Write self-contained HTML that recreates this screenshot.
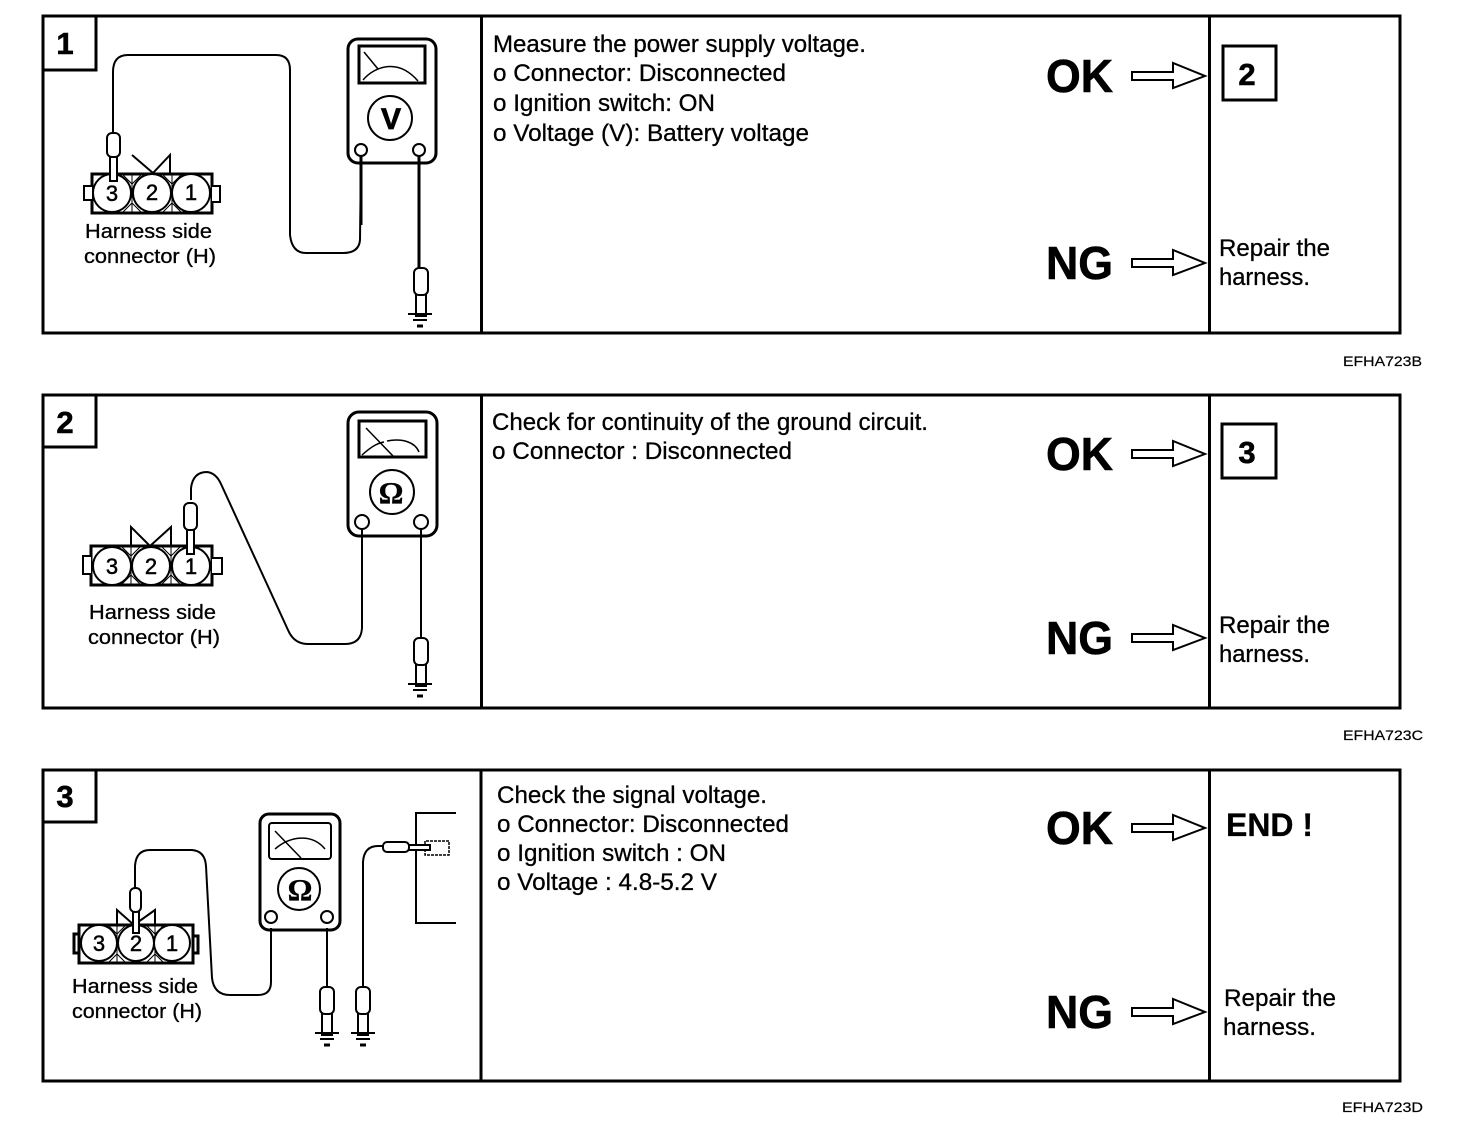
<!DOCTYPE html>
<html lang="en"><head><meta charset="utf-8"><title>EFHA723 troubleshooting</title>
<style>
html,body{margin:0;padding:0;background:#fff}
svg{display:block}
text{font-family:"Liberation Sans",Arial,sans-serif;fill:#000;stroke:#000;stroke-width:.3px}
.b{font-weight:bold}
.m{font-size:24px}
.h{font-size:20px}
.c{font-size:22px;text-anchor:middle;stroke-width:.5px}
.n{font-size:31px;font-weight:bold;text-anchor:middle;stroke-width:.6px}
.big{font-size:46px;font-weight:bold;stroke-width:.6px}
.code{font-size:14px;stroke-width:.2px}
.o{fill:none;stroke:#000;stroke-width:2}
.t{fill:none;stroke:#000;stroke-width:3}
.w{fill:#fff;stroke:#000;stroke-width:2}
.k{fill:none;stroke:#000;stroke-width:1.5}
.x{fill:none;stroke:#000;stroke-width:1}
</style></head><body>
<svg width="1472" height="1128" viewBox="0 0 1472 1128" xmlns="http://www.w3.org/2000/svg">
<defs>
<g id="arrow"><path class="w" d="M0,-4 H41 V-13 L73,0 L41,12 V4 H0 Z"/></g>
<g id="vprobe"><rect class="w" x="-5" y="24" width="10" height="24"/><rect class="w" x="-7" y="0" width="14" height="27" rx="5"/></g>
<g id="gnd"><path class="o" d="M-12,0 H12 M-7,6 H7"/><path class="t" d="M-3,12 H3"/></g>
</defs>
<rect width="1472" height="1128" fill="#fff"/>

<!-- PANEL 1 -->
<rect class="t" x="43" y="16" width="1357" height="317" fill="none"/>
<path class="t" d="M481.500,16 V333 M1209.500,16 V333 M43,70 H96 V16"/>
<text class="n" x="65" y="54">1</text>
<rect class="t" x="348" y="39" width="88" height="124" rx="10"/>
<rect class="t" x="359" y="46" width="66" height="37"/>
<path class="k" d="M364,52 L378,69 M363,80 C375,66 398,58 418,81"/>
<circle class="o" cx="390" cy="118" r="22"/>
<text class="b" x="391" y="129" font-size="30" text-anchor="middle" style="stroke-width:.8px">V</text>
<circle class="w" cx="361" cy="150" r="6"/><circle class="w" cx="419" cy="150" r="6"/>
<path class="o" d="M113,133 V72 Q113,55 128,55 H276 Q290,55 290,70 V235 Q292,253 306,253 H343 Q359,253 360,240 L361,156"/>
<path class="t" d="M361,225 V156 M419,156 V268"/>
<use href="#vprobe" x="421" y="268"/><use href="#gnd" x="420" y="314"/>
<path class="o" d="M132,155 L153,173 L170,155 V174"/>
<rect class="t" x="92" y="174" width="120" height="39" fill="none"/>
<path class="x" d="M132,174 V213 M172,174 V213 M122,174 L132,184 L142,174 M162,174 L172,184 L182,174 M122,213 L132,203 L142,213 M162,213 L172,203 L182,213"/>
<path class="w" d="M92,186 H84 V200 H92 M212,186 H220 V202 H212"/>
<circle class="w" cx="112" cy="193" r="19"/><circle class="w" cx="152" cy="193" r="19"/><circle class="w" cx="191" cy="193" r="19"/>
<text class="c" x="112" y="201">3</text><text class="c" x="152" y="200">2</text><text class="c" x="191" y="200">1</text>
<rect class="w" x="110" y="155" width="7" height="26"/><rect class="w" x="107" y="133" width="13" height="24" rx="5"/>
<text class="h" x="85" y="238" textLength="127" lengthAdjust="spacingAndGlyphs">Harness side</text>
<text class="h" x="84" y="263" textLength="132" lengthAdjust="spacingAndGlyphs">connector (H)</text>
<text class="m" x="493" y="52" textLength="373" lengthAdjust="spacingAndGlyphs">Measure the power supply voltage.</text>
<text class="m" x="493" y="81" textLength="293" lengthAdjust="spacingAndGlyphs">o Connector: Disconnected</text>
<text class="m" x="493" y="111" textLength="222" lengthAdjust="spacingAndGlyphs">o Ignition switch: ON</text>
<text class="m" x="493" y="141" textLength="316" lengthAdjust="spacingAndGlyphs">o Voltage (V): Battery voltage</text>
<text class="big" x="1046" y="92" textLength="67" lengthAdjust="spacingAndGlyphs">OK</text>
<text class="big" x="1046" y="279" textLength="67" lengthAdjust="spacingAndGlyphs">NG</text>
<use href="#arrow" x="1132" y="76"/><use href="#arrow" x="1132" y="263"/>
<rect class="t" x="1223" y="46" width="53" height="54" fill="none"/>
<text class="n" x="1247" y="85">2</text>
<text class="m" x="1219" y="256" textLength="111" lengthAdjust="spacingAndGlyphs">Repair the</text>
<text class="m" x="1219" y="285" textLength="91" lengthAdjust="spacingAndGlyphs">harness.</text>
<text class="code" x="1343" y="366" textLength="79" lengthAdjust="spacingAndGlyphs">EFHA723B</text>

<!-- PANEL 2 -->
<rect class="t" x="43" y="395" width="1357" height="313" fill="none"/>
<path class="t" d="M481.500,395 V708 M1209.500,395 V708 M43,447 H96 V395"/>
<text class="n" x="65" y="433">2</text>
<rect class="t" x="348" y="412" width="89" height="124" rx="11"/>
<rect class="t" x="359" y="421" width="67" height="36"/>
<path class="k" d="M366,428 L394,457 M362,455 C372,446 378,443 384,442 M387,441 C402,438 415,442 419,452"/>
<circle class="o" cx="392" cy="492" r="22"/>
<text x="391" y="503" font-size="31" font-weight="bold" text-anchor="middle" style="font-family:'Liberation Serif',serif">Ω</text>
<circle class="w" cx="362" cy="522" r="7"/><circle class="w" cx="421" cy="522" r="7"/>
<path class="o" d="M191,500 V488 Q193,472 207,472 Q216,473 221,484 L288,630 Q294,644 308,644 H345 Q361,644 362,628 V530"/>
<path class="o" d="M421,530 V638"/>
<use href="#vprobe" x="421" y="638"/><use href="#gnd" x="420" y="684"/>
<path class="o" d="M131,546 V527 L150,546 L171,527 V546"/>
<rect class="t" x="91" y="546" width="121" height="39" fill="none"/>
<path class="x" d="M131,546 V585 M171,546 V585 M121,546 L131,556 L141,546 M161,546 L171,556 L181,546 M121,585 L131,575 L141,585 M161,585 L171,575 L181,585"/>
<path class="w" d="M91,556 H83 V574 H91 M212,558 H222 V574 H212"/>
<circle class="w" cx="112" cy="566" r="19"/><circle class="w" cx="151" cy="566" r="19"/><circle class="w" cx="191" cy="566" r="19"/>
<text class="c" x="112" y="574">3</text><text class="c" x="151" y="574">2</text><text class="c" x="191" y="574">1</text>
<rect class="w" x="187" y="528" width="7" height="26"/><rect class="w" x="184" y="503" width="13" height="27" rx="5"/>
<text class="h" x="89" y="619" textLength="127" lengthAdjust="spacingAndGlyphs">Harness side</text>
<text class="h" x="88" y="644" textLength="132" lengthAdjust="spacingAndGlyphs">connector (H)</text>
<text class="m" x="492" y="430" textLength="436" lengthAdjust="spacingAndGlyphs">Check for continuity of the ground circuit.</text>
<text class="m" x="492" y="459" textLength="300" lengthAdjust="spacingAndGlyphs">o Connector : Disconnected</text>
<text class="big" x="1046" y="470" textLength="67" lengthAdjust="spacingAndGlyphs">OK</text>
<text class="big" x="1046" y="654" textLength="67" lengthAdjust="spacingAndGlyphs">NG</text>
<use href="#arrow" x="1132" y="454"/><use href="#arrow" x="1132" y="638"/>
<rect class="t" x="1222" y="424" width="54" height="54" fill="none"/>
<text class="n" x="1247" y="463">3</text>
<text class="m" x="1219" y="633" textLength="111" lengthAdjust="spacingAndGlyphs">Repair the</text>
<text class="m" x="1219" y="662" textLength="91" lengthAdjust="spacingAndGlyphs">harness.</text>
<text class="code" x="1343" y="740" textLength="80" lengthAdjust="spacingAndGlyphs">EFHA723C</text>

<!-- PANEL 3 -->
<rect class="t" x="43" y="770" width="1357" height="311" fill="none"/>
<path class="t" d="M481,770 V1081 M1209.500,770 V1081 M43,822 H96 V770"/>
<text class="n" x="65" y="807">3</text>
<rect class="t" x="260" y="814" width="80" height="116" rx="9"/>
<rect class="o" x="269" y="823" width="62" height="36" rx="3"/>
<path class="k" d="M275,831 L301,858 M275,849 C290,836 312,833 325,849"/>
<circle class="o" cx="299" cy="889" r="21"/>
<text x="300" y="900" font-size="31" font-weight="bold" text-anchor="middle" style="font-family:'Liberation Serif',serif">Ω</text>
<circle class="w" cx="271" cy="917" r="6"/><circle class="w" cx="327" cy="917" r="6"/>
<path class="o" d="M135,888 V866 Q136,850 150,850 H192 Q205,851 206,866 L212,978 Q214,995 230,995 H258 Q271,995 271,982 V928"/>
<path class="o" d="M327,928 V988 M363,990 V862 Q364,846 378,846 H383"/>
<use href="#vprobe" x="327" y="987"/><use href="#vprobe" x="363" y="987"/>
<use href="#gnd" x="327" y="1033"/><use href="#gnd" x="363" y="1033"/>
<path class="o" d="M456,813 H416 V923 H456"/>
<path class="k" stroke-dasharray="3 1" d="M449,841 H425 V855 H449 Z"/>
<rect class="w" x="407" y="845" width="23" height="5"/><rect class="w" x="383" y="842" width="26" height="10" rx="4"/>
<path class="o" d="M117,925 V910 L134,925 L155,910 V925"/>
<rect class="t" x="79" y="925" width="114" height="38" fill="none"/>
<path class="x" d="M117,925 V963 M155,925 V963 M108,925 L117,934 L126,925 M146,925 L155,934 L164,925 M108,963 L117,954 L126,963 M146,963 L155,954 L164,963"/>
<path class="t" d="M79,934 H74 V953 H79 M193,936 H198 V953 H193"/>
<circle class="w" cx="99" cy="943" r="18"/><circle class="w" cx="136" cy="943" r="18"/><circle class="w" cx="172" cy="943" r="18"/>
<text class="c" x="99" y="951">3</text><text class="c" x="136" y="951">2</text><text class="c" x="172" y="951">1</text>
<rect class="w" x="133" y="910" width="6" height="23"/><rect class="w" x="130" y="888" width="11" height="24" rx="5"/>
<text class="h" x="72" y="993" textLength="126" lengthAdjust="spacingAndGlyphs">Harness side</text>
<text class="h" x="72" y="1018" textLength="130" lengthAdjust="spacingAndGlyphs">connector (H)</text>
<text class="m" x="497" y="803" textLength="270" lengthAdjust="spacingAndGlyphs">Check the signal voltage.</text>
<text class="m" x="497" y="832" textLength="292" lengthAdjust="spacingAndGlyphs">o Connector: Disconnected</text>
<text class="m" x="497" y="861" textLength="229" lengthAdjust="spacingAndGlyphs">o Ignition switch : ON</text>
<text class="m" x="497" y="890" textLength="220" lengthAdjust="spacingAndGlyphs">o Voltage : 4.8-5.2 V</text>
<text class="big" x="1046" y="844" textLength="67" lengthAdjust="spacingAndGlyphs">OK</text>
<text class="big" x="1046" y="1028" textLength="67" lengthAdjust="spacingAndGlyphs">NG</text>
<use href="#arrow" x="1132" y="828"/><use href="#arrow" x="1132" y="1012"/>
<text class="b" x="1226" y="836" font-size="32" textLength="87" lengthAdjust="spacingAndGlyphs">END !</text>
<text class="m" x="1224" y="1006" textLength="112" lengthAdjust="spacingAndGlyphs">Repair the</text>
<text class="m" x="1223" y="1035" textLength="93" lengthAdjust="spacingAndGlyphs">harness.</text>
<text class="code" x="1342" y="1112" textLength="81" lengthAdjust="spacingAndGlyphs">EFHA723D</text>
</svg>
</body></html>
